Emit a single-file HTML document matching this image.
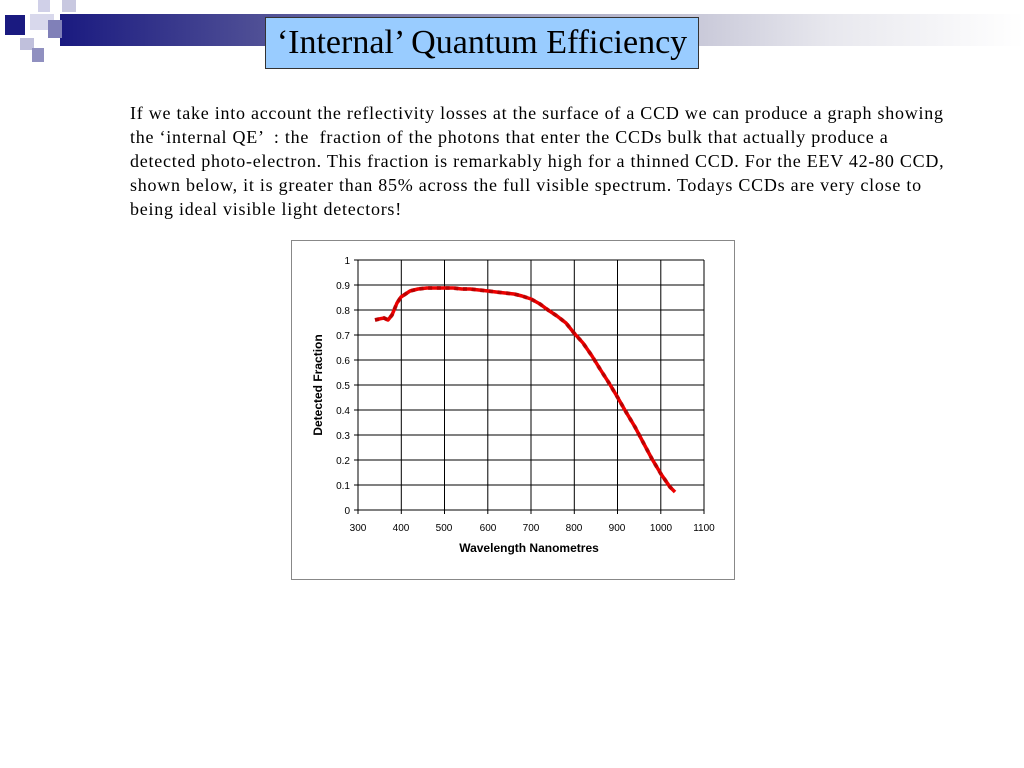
<!DOCTYPE html>
<html><head><meta charset="utf-8"><style>
body{margin:0;width:1024px;height:768px;background:#fff;position:relative;overflow:hidden;font-family:"Liberation Serif",serif}
.abs{position:absolute}
</style></head><body>
<div class="abs" style="left:60px;top:14px;width:964px;height:32px;background:linear-gradient(90deg,#1a1a80 0%,#5a5a9a 25%,#b0b0c8 55%,#e8e8ee 80%,#fff 100%)"></div>
<div class="abs" style="left:0;top:0;width:60px;height:60px;background:#fff"></div>
<div class="abs" style="left:38px;top:0;width:12px;height:12px;background:#d0d0e8"></div>
<div class="abs" style="left:62px;top:0;width:14px;height:12px;background:#c8c8e0"></div>
<div class="abs" style="left:5px;top:15px;width:20px;height:20px;background:#1a1a80"></div>
<div class="abs" style="left:30px;top:14px;width:24px;height:16px;background:#d8d8ec"></div>
<div class="abs" style="left:48px;top:20px;width:14px;height:18px;background:#8080b8"></div>
<div class="abs" style="left:20px;top:38px;width:14px;height:12px;background:#c0c0dc"></div>
<div class="abs" style="left:32px;top:48px;width:12px;height:14px;background:#9090c0"></div>
<div class="abs" style="left:265px;top:17px;width:434px;height:52px;background:#99ccff;border:1px solid #333;box-sizing:border-box;font-size:34px;text-align:center;line-height:50px;color:#000;white-space:nowrap">‘Internal’ Quantum Efficiency</div>
<div class="abs" style="left:130px;top:101px;width:900px;font-size:18px;line-height:24px;color:#000;letter-spacing:0.75px;white-space:nowrap">If we take into account the reflectivity losses at the surface of a CCD we can produce a graph showing<br>the ‘internal QE’ &nbsp;: the &nbsp;fraction of the photons that enter the CCDs bulk that actually produce a<br>detected photo-electron. This fraction is remarkably high for a thinned CCD. For the EEV 42-80 CCD,<br>shown below, it is greater than 85% across the full visible spectrum. Todays CCDs are very close to<br>being ideal visible light detectors!</div>
<svg class="abs" style="left:0;top:0" width="1024" height="768">
<rect x="291.5" y="240.5" width="443" height="339" fill="#fff" stroke="#888"/>
<g stroke="#000" stroke-width="1">
<path d="M358 260H704M358 285H704M358 310H704M358 335H704M358 360H704M358 385H704M358 410H704M358 435H704M358 460H704M358 485H704M358 510H704"/>
<path d="M358 260V514M401.3 260V514M444.5 260V514M487.8 260V514M531 260V514M574.3 260V514M617.5 260V514M660.8 260V514M704 260V514M354 260H358M354 285H358M354 310H358M354 335H358M354 360H358M354 385H358M354 410H358M354 435H358M354 460H358M354 485H358M354 510H358"/>
</g>
<g font-family="Liberation Sans,sans-serif" font-size="10" text-anchor="end">
<text x="350" y="264">1</text><text x="350" y="289">0.9</text><text x="350" y="314">0.8</text><text x="350" y="339">0.7</text><text x="350" y="364">0.6</text><text x="350" y="389">0.5</text><text x="350" y="414">0.4</text><text x="350" y="439">0.3</text><text x="350" y="464">0.2</text><text x="350" y="489">0.1</text><text x="350" y="514">0</text>
</g>
<g font-family="Liberation Sans,sans-serif" font-size="10" text-anchor="middle">
<text x="358" y="531">300</text><text x="401" y="531">400</text><text x="444" y="531">500</text><text x="488" y="531">600</text><text x="531" y="531">700</text><text x="574" y="531">800</text><text x="617" y="531">900</text><text x="661" y="531">1000</text><text x="704" y="531">1100</text>
<text x="529" y="552" font-size="12" font-weight="bold">Wavelength Nanometres</text>
<text transform="translate(322,385) rotate(-90)" font-size="12" font-weight="bold">Detected Fraction</text>
</g>
<polyline fill="none" stroke="#e00" stroke-width="3.5" stroke-linejoin="round" points="375,320 379,319 384,318 388,320 392,315 397,303 401,297 410,291 418,289 427,288 436,288 444,288 453,288 462,289 470,289 479,290 488,291 496,292 505,293 514,294 522,296 531,299 540,304 548,310 557,316 566,323 574,333 583,343 592,356 600,369 609,383 618,398 626,412 635,427 644,444 652,459 661,474 670,487 675,492"/>
<polyline fill="none" stroke="#800" stroke-width="4" stroke-dasharray="4 4.7" points="375,320 379,319 384,318 388,320 392,315 397,303 401,297 410,291 418,289 427,288 436,288 444,288 453,288 462,289 470,289 479,290 488,291 496,292 505,293 514,294 522,296 531,299 540,304 548,310 557,316 566,323 574,333 583,343 592,356 600,369 609,383 618,398 626,412 635,427 644,444 652,459 661,474 670,487 675,492" opacity="0.5"/>
</svg>
</body></html>
